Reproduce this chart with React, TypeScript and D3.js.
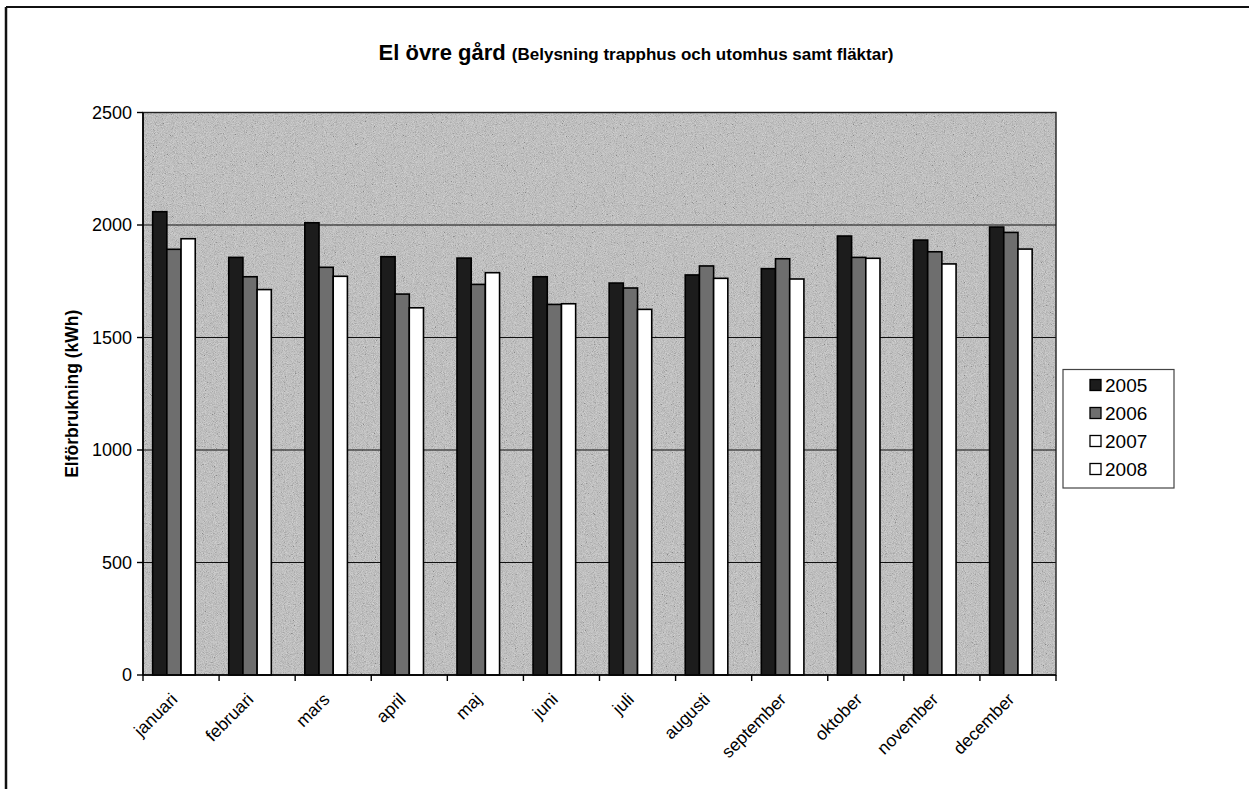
import React from 'react';
import * as d3 from 'd3';

// Monthly electricity use, kWh
const months = ['januari', 'februari', 'mars', 'april', 'maj', 'juni', 'juli', 'augusti', 'september', 'oktober', 'november', 'december'];
const seriesNames = ['2005', '2006', '2007', '2008'];
const values2005 = [2059, 1856, 2010, 1859, 1853, 1770, 1742, 1778, 1806, 1951, 1933, 1991];
const values2006 = [1892, 1770, 1812, 1693, 1736, 1647, 1720, 1818, 1850, 1856, 1881, 1967];
const values2007 = [1939, 1713, 1772, 1632, 1788, 1650, 1625, 1763, 1760, 1852, 1827, 1893];
const values2008: (number | null)[] = [null, null, null, null, null, null, null, null, null, null, null, null];
const yTicks = [0, 500, 1000, 1500, 2000, 2500];

const seriesValues = [values2005, values2006, values2007, values2008];
const seriesFills = ['#1c1c1c', '#6e6e6e', '#ffffff', '#ffffff'];

const W = 1249;
const H = 789;
const plot = { left: 143, right: 1056, top: 112.5, bottom: 675 };
const FONT = '"Liberation Sans", Arial, sans-serif';

export default function App() {
  const x0 = d3.scaleBand<string>().domain(months).range([plot.left, plot.right]).paddingInner(0).paddingOuter(0);
  const x1 = d3.scaleBand<string>().domain(seriesNames).range([0, x0.bandwidth()]).paddingInner(0).paddingOuter(0.68);
  const y = d3.scaleLinear().domain([0, 2500]).range([plot.bottom, plot.top]);

  const boundaries = d3.range(months.length + 1).map((i) => plot.left + i * x0.step());

  return (
    <div style={{ position: 'absolute', left: 0, top: 0 }}>
      <svg width={W} height={H} style={{ display: 'block', background: '#fff' }} fontFamily={FONT}>
        <defs>
          <filter id="grain" x="0" y="0" width="100%" height="100%">
            <feTurbulence type="fractalNoise" baseFrequency="1.1" numOctaves="2" seed="7" result="n" />
            <feColorMatrix in="n" type="matrix" values="0.33 0.33 0.33 0 0  0.33 0.33 0.33 0 0  0.33 0.33 0.33 0 0  0 0 0 0 1" result="g" />
            <feComponentTransfer in="g">
              <feFuncR type="linear" slope="2.4" intercept="-0.7" />
              <feFuncG type="linear" slope="2.4" intercept="-0.7" />
              <feFuncB type="linear" slope="2.4" intercept="-0.7" />
            </feComponentTransfer>
          </filter>
        </defs>

        {/* chart frame */}
        <line x1={6} x2={W} y1={7} y2={7} stroke="#111" strokeWidth={2} />
        <line x1={6} x2={6} y1={7} y2={H} stroke="#111" strokeWidth={2.5} />

        {/* title */}
        <text x={636} y={60} textAnchor="middle" fontWeight="bold" fill="#000">
          <tspan fontSize={22}>El övre gård </tspan>
          <tspan fontSize={17}>(Belysning trapphus och utomhus samt fläktar)</tspan>
        </text>

        {/* plot background */}
        <rect x={plot.left} y={plot.top} width={plot.right - plot.left} height={plot.bottom - plot.top} fill="#c2c2c2" />
        <rect x={plot.left} y={plot.top} width={plot.right - plot.left} height={plot.bottom - plot.top} filter="url(#grain)" opacity={0.3} />

        {/* gridlines */}
        {yTicks.slice(1, -1).map((t) => (
          <line key={t} x1={plot.left} x2={plot.right} y1={y(t)} y2={y(t)} stroke="#111" strokeWidth={1.2} />
        ))}

        {/* bars */}
        {months.map((m, i) => (
          <g key={m} transform={`translate(${x0(m)},0)`}>
            {seriesNames.map((s, k) => {
              const v = seriesValues[k][i];
              if (v == null) return null;
              return (
                <rect
                  key={s}
                  x={x1(s)}
                  y={y(v)}
                  width={x1.bandwidth()}
                  height={y(0) - y(v)}
                  fill={seriesFills[k]}
                  stroke="#000"
                  strokeWidth={1.6}
                />
              );
            })}
          </g>
        ))}

        {/* plot border */}
        <rect x={plot.left} y={plot.top} width={plot.right - plot.left} height={plot.bottom - plot.top} fill="none" stroke="#222" strokeWidth={1.4} />

        {/* y axis */}
        <line x1={plot.left} x2={plot.left} y1={plot.top} y2={plot.bottom} stroke="#000" strokeWidth={1.6} />
        {yTicks.map((t) => (
          <g key={t}>
            <line x1={plot.left - 6} x2={plot.left} y1={y(t)} y2={y(t)} stroke="#000" strokeWidth={1.4} />
            <text x={plot.left - 11} y={y(t)} dy="0.36em" textAnchor="end" fontSize={18} fill="#000">
              {t}
            </text>
          </g>
        ))}
        <text
          transform={`translate(72,${(plot.top + plot.bottom) / 2}) rotate(-90)`}
          textAnchor="middle"
          dy="0.36em"
          fontSize={17.5}
          fontWeight="bold"
          fill="#000"
        >
          Elförbrukning (kWh)
        </text>

        {/* x axis */}
        <line x1={plot.left} x2={plot.right} y1={plot.bottom} y2={plot.bottom} stroke="#000" strokeWidth={1.6} />
        {boundaries.map((bx, i) => (
          <line key={i} x1={bx} x2={bx} y1={plot.bottom} y2={plot.bottom + 6} stroke="#000" strokeWidth={1.4} />
        ))}
        {months.map((m) => {
          const cx = (x0(m) as number) + x0.bandwidth() / 2;
          return (
            <text
              key={m}
              transform={`translate(${cx - 7},${plot.bottom + 21}) rotate(-45)`}
              textAnchor="end"
              dy="0.36em"
              fontSize={17.5}
              fill="#000"
            >
              {m}
            </text>
          );
        })}

        {/* legend */}
        <rect x={1063} y={369.5} width={111} height={118.5} fill="#fff" stroke="#444" strokeWidth={1.2} />
        {seriesNames.map((s, k) => {
          const cy = 385 + k * 28;
          return (
            <g key={s}>
              <rect x={1090} y={cy - 5.5} width={11} height={11} fill={seriesFills[k]} stroke="#000" strokeWidth={1.3} />
              <text x={1105} y={cy} dy="0.36em" fontSize={19} fill="#000">
                {s}
              </text>
            </g>
          );
        })}
      </svg>
    </div>
  );
}
